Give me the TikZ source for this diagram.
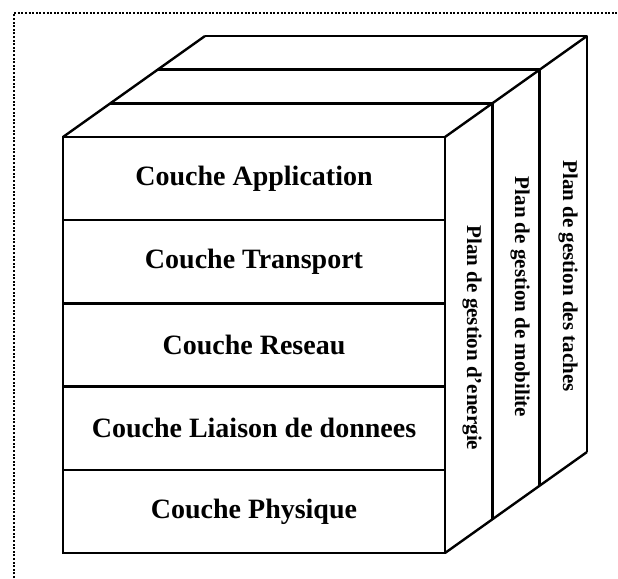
\documentclass[tikz,border=0pt]{standalone}
\usepackage{fontspec}
\setmainfont{Liberation Serif}
\usetikzlibrary{positioning,calc}

\begin{document}
\begin{tikzpicture}[x=1pt, y=-1pt,
  couche/.style={draw, line width=2.4pt, minimum width=382pt, minimum height=83.2pt, inner sep=0pt, outer sep=0pt, font=\fontsize{28}{30}\selectfont\bfseries},
  plan/.style={rotate=-90, inner sep=0pt, font=\fontsize{21}{23}\selectfont\bfseries},
  arete/.style={line width=2.4pt, line join=round},
  cadre/.style={line width=2pt, dash pattern=on 2pt off 1.6pt}]
\useasboundingbox (0,0) rectangle (618,578);
% cadre pointille
\draw[cadre] (14,578) -- (14,13) -- (618,13);
% face avant : les couches
\node[couche] (app) at (254,178.6) {Couche Application};
\node[couche, below=0pt of app] (trans) {Couche Transport};
\node[couche, below=0pt of trans] (res) {Couche Reseau};
\node[couche, below=0pt of res] (liais) {Couche Liaison de donnees};
\node[couche, below=0pt of liais] (phys) {Couche Physique};
% les trois plans en profondeur
\foreach \k in {1,2,3}
  \draw[arete] ($(app.north west)+\k*(47.3,-33.7)$) -- ++(382,0) -- ++(0,416);
\draw[arete] (app.north west) -- ++(142,-101);
\draw[arete] (app.north east) -- ++(142,-101);
\draw[arete] (phys.south east) -- ++(142,-101);
\node[plan] (energie) at (472,338) {Plan de gestion d'energie};
\node[plan] (mobilite) at (520,297) {Plan de gestion de mobilite};
\node[plan] (taches) at (568,276) {Plan de gestion des taches};
\end{tikzpicture}
\end{document}
